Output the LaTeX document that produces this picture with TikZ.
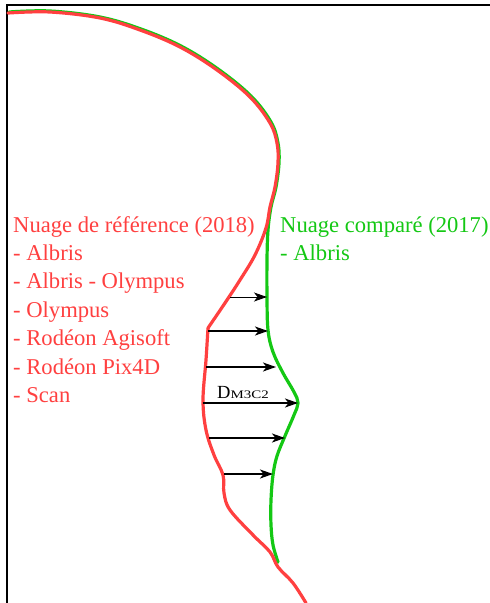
\documentclass[tikz,border=0pt]{standalone}
\usepackage{fontspec}
\setmainfont{Liberation Serif}
\usetikzlibrary{arrows.meta}
\definecolor{refred}{RGB}{255,64,64}
\definecolor{cmpgreen}{RGB}{20,200,20}
\begin{document}
\begin{tikzpicture}[x=1pt,y=-1pt,
  redline/.style={refred,line width=3.2pt,line cap=round,line join=round},
  greenline/.style={cmpgreen,line width=3.2pt,line cap=round,line join=round},
  distarrow/.style={black,line width=1.3pt,-{Stealth[length=13pt,width=9pt,inset=3.5pt]}},
  redtxt/.style={refred,anchor=base west,inner sep=0pt,font=\fontsize{22.6}{27}\selectfont},
  greentxt/.style={cmpgreen,anchor=base west,inner sep=0pt,font=\fontsize{22.6}{27}\selectfont}]
\useasboundingbox (0,0) rectangle (490,603);
\fill[white] (0,0) rectangle (490,603);
% frame
\draw[black,line width=2pt] (7,603) -- (7,5) -- (490,5);
% green (compared) cloud
\draw[greenline] plot[smooth,tension=0.6] coordinates {
 (9,12) (50,11) (100,17) (141,29) (181,46) (218,69) (251,96) (271,122) (278,143) (279,163) (276,187) (271,207)
 (268,230) (267,260) (267,297) (268,330) (273,352) (283,373) (294,392) (298,403) (294,415) (285,436) (277,456) (273,475)
 (271,500) (271,525) (273,545) (278,562)};
% red (reference) cloud
\draw[redline] plot[smooth,tension=0.6] coordinates {
 (8,13) (50,12) (100,18) (140,30) (180,47) (217,70) (250,97) (270,123) (277,143) (278,163) (275,187) (270,207)
 (266,228) (255,255) (240,280) (225,303) (208,328)};
\draw[redline] plot[smooth,tension=0.6] coordinates {
 (208,328) (206,360) (203,400) (206,430) (214,455) (223,475) (224,493) (230,510) (253,535) (270,552) (278,567) (293,583) (306,603)};
% arrow end points
\coordinate (s1) at (230,297); \coordinate (e1) at (267,297);
\coordinate (s2) at (208,331); \coordinate (e2) at (268,331);
\coordinate (s3) at (206,367); \coordinate (e3) at (276,367);
\coordinate (s4) at (203,403); \coordinate (e4) at (298,403);
\coordinate (s5) at (209,438); \coordinate (e5) at (285,438);
\coordinate (s6) at (224,474); \coordinate (e6) at (273,474);
\draw[distarrow,line width=0.9pt] (s1) -- (e1);
\draw[distarrow] (s2) -- (e2);
\draw[distarrow] (s3) -- (e3);
\draw[distarrow] (s4) -- (e4);
\draw[distarrow] (s5) -- (e5);
\draw[distarrow] (s6) -- (e6);
\node[anchor=base west,inner sep=0pt] (dm) at (217,398) {\fontsize{18.5}{18.5}\selectfont D\scalebox{1.3}[1]{\fontsize{11.5}{11.5}\selectfont M3C2}};
% texts
\node[redtxt] (r0) at (13,232) {Nuage de référence (2018)};
\node[redtxt] (r1) at (13,260.4) {- Albris};
\node[redtxt] (r2) at (13,288.8) {- Albris - Olympus};
\node[redtxt] (r3) at (13,317.2) {- Olympus};
\node[redtxt] (r4) at (13,345.6) {- Rodéon Agisoft};
\node[redtxt] (r5) at (13,374) {- Rodéon Pix4D};
\node[redtxt] (r6) at (13,402.4) {- Scan};
\node[greentxt] (g0) at (280,232) {Nuage comparé (2017)};
\node[greentxt] (g1) at (280,260.4) {- Albris};
\end{tikzpicture}
\end{document}
